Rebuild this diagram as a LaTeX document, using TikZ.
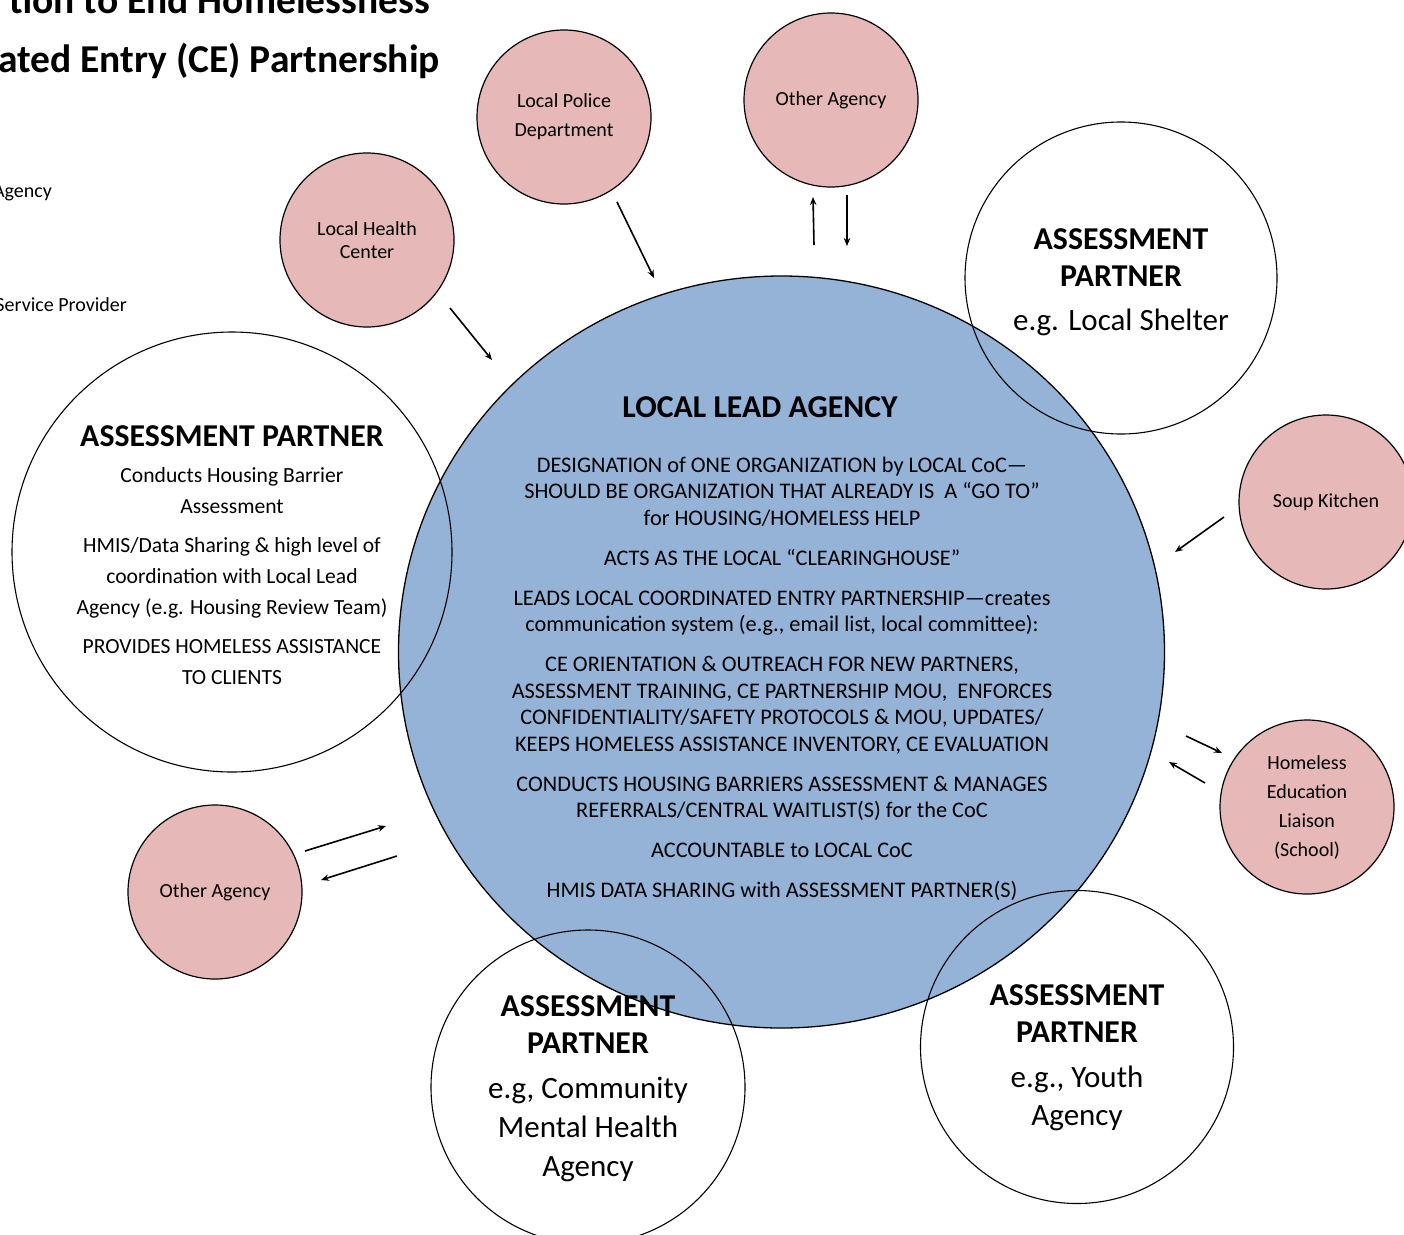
\documentclass[tikz,border=0pt]{standalone}
\usepackage{fontspec}
\setmainfont{Carlito}
\usetikzlibrary{arrows.meta,shapes.geometric}
\definecolor{leadblue}{HTML}{95B3D7}
\definecolor{orgpink}{HTML}{E6B9B8}
\begin{document}
\begin{tikzpicture}[x=1pt,y=-1pt,
  leadcircle/.style={ellipse, draw=black, line width=1.3pt, fill=leadblue, minimum width=766pt, minimum height=752pt, inner sep=0pt},
  partnercircle/.style={circle, draw=black, line width=1.1pt, inner sep=0pt},
  pinkorg/.style={circle, draw=black, line width=1.2pt, fill=orgpink, minimum size=174pt, inner sep=0pt, align=center, font=\fontsize{20}{29}\selectfont},
  flow/.style={-{Stealth[length=8pt,width=6.5pt]}, line width=1.6pt},
  hdtext/.style={font=\bfseries\fontsize{31.8}{37}\selectfont, align=center, inner sep=0pt},
  subtext/.style={font=\fontsize{31}{39}\selectfont, align=center, inner sep=0pt},
  bodytext/.style={font=\fontsize{22.3}{26.5}\selectfont, align=center, inner sep=0pt},
  smalltext/.style={font=\fontsize{21.6}{31}\selectfont, align=center, inner sep=0pt},
  titletext/.style={font=\bfseries\fontsize{39.5}{46}\selectfont, inner sep=0pt, anchor=base east},
  legendtext/.style={font=\fontsize{20}{24}\selectfont, inner sep=0pt, anchor=base east}
]
\useasboundingbox (0,0) rectangle (1404,1234);
\fill[white] (0,0) rectangle (1404,1234);

% title and legend (cut at the left edge)
\node[titletext] (title1) at (430,13) {tion to End Homelessness};
\node[titletext] (title2) at (440,72) {ated Entry (CE) Partnership};
\node[legendtext] (leg1) at (52,197) {Agency};
\node[legendtext] (leg2) at (127,311) {Service Provider};

% lead agency
\node[leadcircle] (lead) at (781.5,652) {};

% assessment partners (outlines only)
\node[partnercircle, minimum size=440pt] (apleft) at (232,552) {};
\node[partnercircle, minimum size=312pt] (apshelter) at (1121,278) {};
\node[partnercircle, minimum size=314pt] (apmental) at (588,1087) {};
\node[partnercircle, minimum size=313pt] (apyouth) at (1077,1047) {};

% other organizations
\node[pinkorg, font=\fontsize{20}{23}\selectfont] (health) at (367,240) {Local Health\\Center};
\node[pinkorg] (police) at (564,117) {Local Police\\Department};
\node[pinkorg] (othertop) at (831,100) {Other Agency};
\node[pinkorg] (soup) at (1326,502) {Soup Kitchen};
\node[pinkorg] (liaison) at (1307,807) {Homeless\\Education\\Liaison\\(School)};
\node[pinkorg] (otherleft) at (215,892) {Other Agency};

% lead agency text
\node[hdtext] (leadhead) at (760,407) {LOCAL LEAD AGENCY};
\node[bodytext] (leadbody) at (782,679) {%
DESIGNATION of ONE ORGANIZATION by LOCAL CoC—\\
SHOULD BE ORGANIZATION THAT ALREADY IS\ \ A “GO TO”\\
for HOUSING/HOMELESS HELP\\[13.5pt]
ACTS AS THE LOCAL “CLEARINGHOUSE”\\[13.5pt]
LEADS LOCAL COORDINATED ENTRY PARTNERSHIP—creates\\
communication system (e.g., email list, local committee):\\[13.5pt]
CE ORIENTATION \& OUTREACH FOR NEW PARTNERS,\\
ASSESSMENT TRAINING, CE PARTNERSHIP MOU,\ \ ENFORCES\\
CONFIDENTIALITY/SAFETY PROTOCOLS \& MOU, UPDATES/\\
KEEPS HOMELESS ASSISTANCE INVENTORY, CE EVALUATION\\[13.5pt]
CONDUCTS HOUSING BARRIERS ASSESSMENT \& MANAGES\\
REFERRALS/CENTRAL WAITLIST(S) for the CoC\\[13.5pt]
ACCOUNTABLE to LOCAL CoC\\[13.5pt]
HMIS DATA SHARING with ASSESSMENT PARTNER(S)};

% left partner text
\node[hdtext] (aplefthead) at (232,436) {ASSESSMENT PARTNER};
\node[smalltext] (apleftbody) at (232,576) {%
Conducts Housing Barrier\\
Assessment\\[8pt]
HMIS/Data Sharing \& high level of\\
coordination with Local Lead\\
Agency (e.g. Housing Review Team)\\[8pt]
PROVIDES HOMELESS ASSISTANCE\\
TO CLIENTS};

% other partner texts
\node[hdtext] (apshelterhead) at (1121,258) {ASSESSMENT\\PARTNER};
\node[subtext] (apsheltersub) at (1121,322) {e.g. Local Shelter};
\node[hdtext] (apmentalhead) at (588,1025) {ASSESSMENT\\PARTNER};
\node[subtext] (apmentalsub) at (588,1129) {e.g, Community\\Mental Health\\Agency};
\node[hdtext] (apyouthhead) at (1077,1014) {ASSESSMENT\\PARTNER};
\node[subtext, font=\fontsize{31}{38}\selectfont] (apyouthsub) at (1077,1098) {e.g., Youth\\Agency};

% connector end points
\coordinate (hs) at (450,308); \coordinate (he) at (492,360);
\coordinate (ps) at (617,202); \coordinate (pe) at (654,278);
\coordinate (ous) at (814,245); \coordinate (oue) at (813,197);
\coordinate (ods) at (847,195); \coordinate (ode) at (847,246);
\coordinate (ss) at (1224,517); \coordinate (se) at (1175,552);
\coordinate (lrs) at (1186,736); \coordinate (lre) at (1222,753);
\coordinate (lls) at (1205,783); \coordinate (lle) at (1169,762);
\coordinate (ors) at (305,851); \coordinate (ore) at (386,826);
\coordinate (ols) at (397,856); \coordinate (ole) at (321,880);

\draw[flow] (hs) -- (he);
\draw[flow] (ps) -- (pe);
\draw[flow] (ous) -- (oue);
\draw[flow] (ods) -- (ode);
\draw[flow] (ss) -- (se);
\draw[flow] (lrs) -- (lre);
\draw[flow] (lls) -- (lle);
\draw[flow] (ors) -- (ore);
\draw[flow] (ols) -- (ole);
\end{tikzpicture}
\end{document}
